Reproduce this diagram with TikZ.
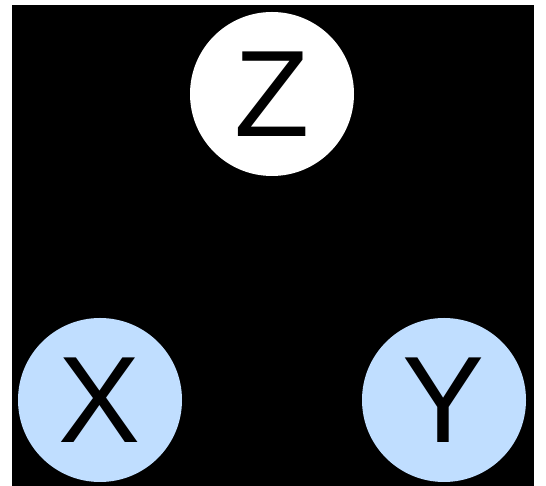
\documentclass[tikz,border=0pt]{standalone}
\usepackage{fontspec}
\setmainfont{Liberation Sans}
\definecolor{obsblue}{RGB}{192,222,255}
\begin{document}
\begin{tikzpicture}[level distance=306pt, sibling distance=344pt,
    var/.style={circle, minimum size=164pt, inner sep=0pt,
      font=\fontsize{123}{123}\selectfont},
    edge from parent/.style={draw=none}]
    \useasboundingbox (0,0) rectangle (546pt,486pt);
    \fill[black] (12pt,0) rectangle (534pt,481pt);
    \node [var, fill=white] (z) at (272pt,392pt) {Z}
    child {node [var, fill=obsblue] (x) {X}}
    child {node [var, fill=obsblue] (y) {Y}};
  \end{tikzpicture}
\end{document}
